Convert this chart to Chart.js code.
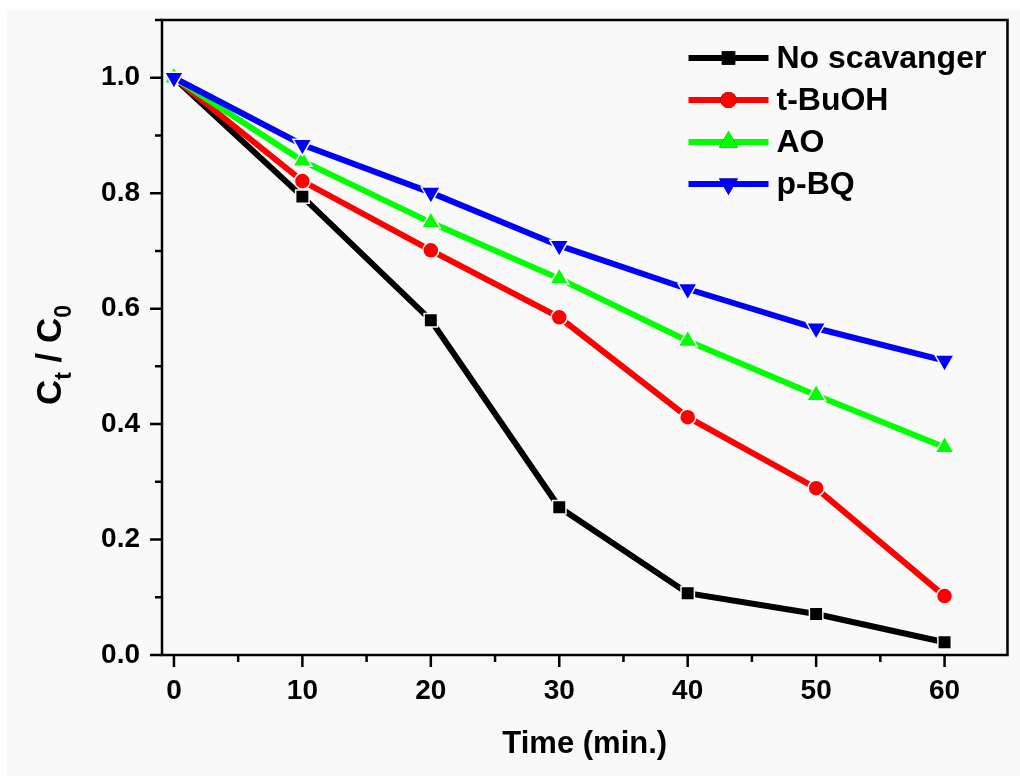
<!DOCTYPE html>
<html>
<head>
<meta charset="utf-8">
<script src="https://cdn.jsdelivr.net/npm/chart.js@4.4.1/dist/chart.umd.min.js"></script>
<style>
  html, body { margin: 0; padding: 0; background: #ffffff; }
  #wrap { position: absolute; left: 0; top: 0; width: 1020px; height: 776px; }
</style>
</head>
<body>
<div id="wrap"><canvas id="c" width="1020" height="776"></canvas></div>
<script>
// ---- data ----
const times = [0, 10, 20, 30, 40, 50, 60];
const noScavanger = [1.0, 0.794, 0.580, 0.256, 0.107, 0.071, 0.022];
const tBuOH = [1.0, 0.821, 0.701, 0.585, 0.412, 0.289, 0.102];
const AO = [1.0, 0.856, 0.749, 0.652, 0.544, 0.450, 0.360];
const pBQ = [1.0, 0.884, 0.801, 0.709, 0.634, 0.566, 0.510];
const seriesNames = ['No scavanger', 't-BuOH', 'AO', 'p-BQ'];
const xTickValues = [0, 10, 20, 30, 40, 50, 60];
const yTickValues = [0.0, 0.2, 0.4, 0.6, 0.8, 1.0];

const FONT = '"Liberation Sans", Arial, Helvetica, sans-serif';
const BG = '#f9f9f9';

function pts(ys) { return times.map((t, i) => ({ x: t, y: ys[i] })); }

const styles = [
  { color: '#000000', pointStyle: 'rect', radius: 9.5, rotation: 0, order: 3 },
  { color: '#ff0000', pointStyle: 'circle', radius: 8, rotation: 0, order: 2 },
  { color: '#00ff00', pointStyle: 'triangle', radius: 11, rotation: 0, order: 1 },
  { color: '#0000ff', pointStyle: 'triangle', radius: 11, rotation: 180, order: 0 }
];
const seriesData = [noScavanger, tBuOH, AO, pBQ];

const datasets = seriesData.map((d, i) => ({
  label: seriesNames[i],
  data: pts(d),
  borderColor: styles[i].color,
  backgroundColor: styles[i].color,
  borderWidth: 6,
  pointStyle: styles[i].pointStyle,
  pointRadius: styles[i].radius,
  pointHoverRadius: styles[i].radius,
  pointRotation: styles[i].rotation,
  pointBorderColor: BG,
  pointBorderWidth: 1.5,
  pointBackgroundColor: styles[i].color,
  order: styles[i].order,
  tension: 0
}));

const bgPlugin = {
  id: 'bgPanel',
  beforeDraw(chart) {
    const ctx = chart.ctx;
    ctx.save();
    ctx.fillStyle = '#ffffff';
    ctx.fillRect(0, 0, chart.width, chart.height);
    ctx.fillStyle = BG;
    ctx.fillRect(7, 10, chart.width - 7, chart.height - 10);
    ctx.restore();
  }
};

const decoPlugin = {
  id: 'deco',
  afterDraw(chart) {
    const ctx = chart.ctx;
    const a = chart.chartArea;
    const xs = chart.scales.x, ys = chart.scales.y;
    ctx.save();
    // frame
    ctx.strokeStyle = '#000';
    ctx.lineWidth = 2.5;
    ctx.strokeRect(a.left, a.top, a.right - a.left, a.bottom - a.top);
    // x ticks (major every 10, minor every 5)
    ctx.beginPath();
    for (let v = 0; v <= 65; v += 5) {
      const px = xs.getPixelForValue(v);
      if (px < a.left || px > a.right + 1) continue;
      const len = (v % 10 === 0) ? 12 : 7;
      ctx.moveTo(px, a.bottom);
      ctx.lineTo(px, a.bottom + len);
    }
    // y ticks (major every 0.2, minor every 0.1)
    for (let k = 0; k <= 11; k++) {
      const v = k / 10;
      const py = ys.getPixelForValue(v);
      const len = (k % 2 === 0) ? 12 : 7;
      ctx.moveTo(a.left, py);
      ctx.lineTo(a.left - len, py);
    }
    ctx.stroke();

    // y axis title with subscripts: C_t / C_0
    ctx.translate(53, 355);
    ctx.rotate(-Math.PI / 2);
    ctx.fillStyle = '#000';
    ctx.textBaseline = 'alphabetic';
    ctx.textAlign = 'left';
    const big = 'bold 35px ' + FONT, small = 'bold 23px ' + FONT;
    const parts = [['C', big, 0], ['t', small, 10], [' / ', big, 0], ['C', big, 0], ['0', small, 10]];
    let total = 0;
    parts.forEach(p => { ctx.font = p[1]; total += ctx.measureText(p[0]).width; });
    let x = -total / 2;
    parts.forEach(p => {
      ctx.font = p[1];
      ctx.fillText(p[0], x, 8 + p[2]);
      x += ctx.measureText(p[0]).width;
    });
    ctx.restore();

    // legend: line-marker-line + label
    ctx.save();
    const lx0 = a.right - 319, lx1 = a.right - 239, tx = a.right - 231;
    const rowY0 = a.top + 38, rowGap = 42;
    chart.data.datasets.forEach((ds, i) => {
      const y = rowY0 + i * rowGap;
      ctx.strokeStyle = ds.borderColor;
      ctx.lineWidth = 6;
      ctx.beginPath();
      ctx.moveTo(lx0, y); ctx.lineTo(lx1, y);
      ctx.stroke();
      Chart.helpers.drawPoint(ctx, {
        pointStyle: ds.pointStyle, rotation: ds.pointRotation,
        radius: ds.pointRadius, borderWidth: 0
      }, (lx0 + lx1) / 2, y);
      ctx.fillStyle = ds.borderColor;
      ctx.fill();
      ctx.fillStyle = '#000';
      ctx.font = 'bold 32px ' + FONT;
      ctx.textBaseline = 'middle';
      ctx.textAlign = 'left';
      ctx.fillText(ds.label, tx, y + 1);
    });
    ctx.restore();
  }
};

new Chart(document.getElementById('c'), {
  type: 'line',
  data: { datasets },
  options: {
    responsive: false,
    animation: false,
    events: [],
    layout: { padding: { left: 0, top: 20, right: 11, bottom: 0 } },
    plugins: { legend: { display: false }, tooltip: { enabled: false } },
    scales: {
      x: {
        type: 'linear', min: -0.93, max: 64.9,
        afterFit(s) { s.height = 121; s.paddingLeft = 0; s.paddingRight = 0; },
        afterBuildTicks(s) { s.ticks = xTickValues.map(v => ({ value: v })); },
        grid: { display: true, drawOnChartArea: false, drawTicks: true, tickLength: 12, tickColor: 'rgba(0,0,0,0)', color: 'rgba(0,0,0,0)' },
        border: { display: false },
        ticks: { color: '#000', font: { family: FONT, size: 28, weight: 'bold' }, padding: 7, maxRotation: 0, autoSkip: false,
                 callback: v => String(v) },
        title: { display: true, text: 'Time (min.)', color: '#000', font: { family: FONT, size: 31, weight: 'bold' }, padding: { top: 0, bottom: 13 } }
      },
      y: {
        type: 'linear', min: 0, max: 1.1,
        afterFit(s) { s.width = 162; s.paddingTop = 0; s.paddingBottom = 0; },
        afterBuildTicks(s) { s.ticks = yTickValues.map(v => ({ value: v })); },
        grid: { display: true, drawOnChartArea: false, drawTicks: true, tickLength: 12, tickColor: 'rgba(0,0,0,0)', color: 'rgba(0,0,0,0)' },
        border: { display: false },
        ticks: { color: '#000', font: { family: FONT, size: 28, weight: 'bold' }, padding: 10, autoSkip: false,
                 callback: v => v.toFixed(1) }
      }
    }
  },
  plugins: [bgPlugin, decoPlugin]
});
</script>
</body>
</html>
